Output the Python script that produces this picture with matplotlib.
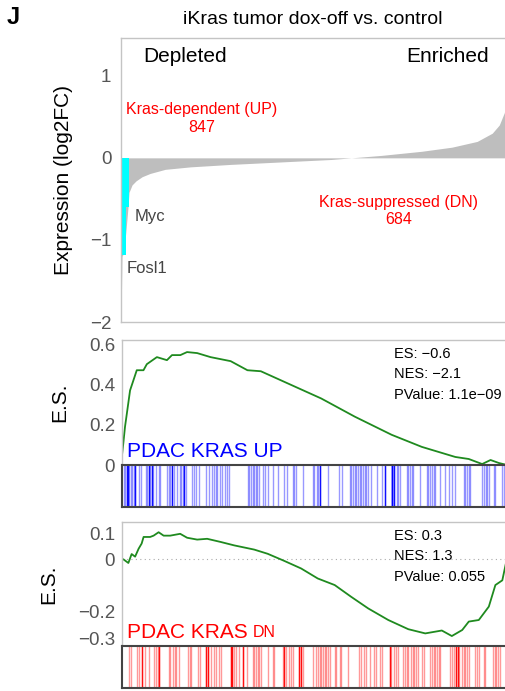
import matplotlib
matplotlib.use("Agg")
import matplotlib.pyplot as plt

plt.rcParams['font.family'] = ['Liberation Sans', 'DejaVu Sans']

# waterfall of sorted log2FC (rank as % of genes)
wf_rank = [0, 0.13, 0.26, 0.78, 1.82, 2.08, 2.86, 3.91, 5.47, 7.55, 11.46, 17.97,
           28.39, 41.41, 54.43, 59.64, 67.45, 77.86, 85.68, 92.19, 96.09, 97.92, 99.22, 100]
wf_log2fc = [-2.0, -1.6, -1.2, -1.15, -0.6, -0.42, -0.33, -0.28, -0.23, -0.19, -0.14, -0.11,
             -0.08, -0.05, -0.02, 0.0, 0.03, 0.08, 0.13, 0.2, 0.3, 0.4, 0.55, 0.72]
hl_genes = ['Fosl1', 'Myc']
hl_rank = [0.3, 1.2]
hl_log2fc = [-1.18, -0.6]
n_up = 847
n_dn = 684

# running enrichment score, PDAC KRAS UP
es_up_rank = [0, 0.35, 0.78, 1.22, 2.09, 2.96, 3.83, 5.57, 6.44, 9.05, 11.66, 12.97, 15.14,
              16.88, 19.5, 22.98, 28.2, 32.55, 36.03, 44.73, 51.7, 60.4, 69.97, 77.81,
              86.51, 89.99, 93.47, 95.65, 97.82, 100]
es_up = [0.05, 0.11, 0.19, 0.25, 0.37, 0.42, 0.47, 0.47, 0.5, 0.535, 0.52, 0.545, 0.545,
         0.56, 0.555, 0.535, 0.515, 0.47, 0.465, 0.39, 0.33, 0.24, 0.15, 0.09,
         0.04, 0.03, 0.005, 0.025, 0.01, 0.0]
up_hits = [0.5, 0.9, 1.2, 1.6, 1.9, 2.3, 2.7, 3.0, 3.3, 4.3, 4.9, 6.3, 6.6, 7.0, 7.3, 7.8, 8.1,
           8.9, 9.5, 9.9, 11.7, 12.1, 12.5, 13.0, 13.4, 14.3, 15.0, 15.4, 15.8, 16.2, 16.6,
           18.2, 18.6, 19.1, 19.9, 21.7, 22.5, 23.4, 23.8, 24.3, 24.7, 25.4, 26.0, 26.6, 27.2,
           27.8, 32.6, 33.0, 33.4, 33.9, 34.3, 34.7, 35.1, 35.6, 36.5, 37.1, 37.8, 39.1, 40.4,
           42.1, 42.8, 44.3, 44.7, 45.2, 46.9, 49.5, 49.9, 50.6, 50.8, 51.5, 53.4, 56.2, 57.1,
           59.1, 59.5, 60.0, 60.4, 60.8, 61.3, 61.7, 62.1, 62.6, 63.0, 63.4, 63.9, 64.6, 66.1,
           67.4, 68.2, 70.0, 70.2, 70.5, 71.3, 71.7, 72.1, 73.9, 74.3, 74.8, 75.2, 75.6, 77.4,
           79.1, 79.5, 80.0, 80.4, 80.9, 81.3, 82.6, 83.9, 84.8, 85.6, 86.5, 88.7, 89.1, 89.6,
           90.0, 90.4, 93.5, 93.9, 94.4, 94.8, 95.2, 96.5, 96.9, 98.7, 99.1]
up_hits_dark = [1.2, 1.6, 3.3, 7.0, 7.8, 13.0, 16.2, 51.5, 68.2, 70.0, 70.2, 70.5]

# running enrichment score, PDAC KRAS DN
es_dn_rank = [0, 0.35, 1.65, 2.5, 3.4, 4.3, 5.1, 5.6, 7.3, 8.2, 9.5, 10.8, 12.5, 15.1, 16.9,
              19.5, 22.1, 25.6, 29.1, 34.3, 37.8, 42.1, 46.5, 50.8, 55.2, 59.5, 63.9, 69.1,
              74.3, 78.7, 83.0, 85.6, 88.3, 90.0, 92.6, 95.2, 96.9, 98.7, 100]
es_dn = [0.0, 0.0, -0.014, 0.02, 0.01, 0.04, 0.06, 0.085, 0.085, 0.09, 0.103, 0.09, 0.09,
         0.097, 0.082, 0.075, 0.078, 0.066, 0.053, 0.037, 0.021, -0.006, -0.035, -0.073,
         -0.098, -0.143, -0.187, -0.231, -0.266, -0.282, -0.271, -0.292, -0.269, -0.237,
         -0.231, -0.18, -0.098, -0.08, 0.01]
dn_hits = [1.9, 2.3, 3.8, 4.3, 5.1, 6.0, 6.9, 8.4, 8.9, 9.3, 9.7, 12.1, 12.5, 13.2, 13.7, 14.1,
           14.7, 17.2, 17.6, 18.0, 19.8, 20.2, 21.9, 22.3, 23.0, 23.8, 24.3, 25.3, 25.8, 28.2,
           28.6, 29.1, 29.5, 30.4, 31.3, 32.4, 33.9, 34.3, 34.7, 35.2, 35.6, 36.0, 37.8, 39.1,
           39.5, 41.7, 42.1, 42.6, 43.4, 43.9, 44.3, 46.0, 46.5, 46.9, 49.5, 50.4, 50.8, 51.3,
           51.7, 52.1, 52.6, 53.0, 53.4, 53.9, 55.2, 55.6, 56.5, 56.9, 58.7, 61.4, 62.0, 62.8,
           63.4, 64.3, 65.5, 65.9, 66.9, 67.4, 69.5, 69.8, 70.7, 71.0, 71.7, 73.0, 73.4, 73.9,
           74.3, 75.0, 75.5, 75.9, 76.3, 76.8, 77.8, 78.3, 80.0, 80.4, 80.9, 81.3, 81.7, 82.2,
           82.6, 85.2, 85.6, 86.1, 86.8, 87.1, 87.5, 88.3, 88.7, 89.1, 89.6, 90.0, 91.7, 92.2,
           92.6, 93.9, 94.3, 96.3, 96.7, 97.1, 97.5, 98.0, 99.6]
dn_hits_dark = [5.1, 9.7, 21.9, 22.3, 28.2, 28.6, 31.3, 42.1, 46.0, 46.5, 69.5, 86.8, 87.1, 99.6]

stats_up = ['ES: \u22120.6', 'NES: \u22122.1', 'PValue: 1.1e\u221209']
stats_dn = ['ES: 0.3', 'NES: 1.3', 'PValue: 0.055']

LG = '#c4c4c4'
TICK = '#555555'
GREEN = '#1f8a1f'

fig = plt.figure(figsize=(5.05, 6.91), dpi=100)

def style_axes(ax, edge=LG):
    for s in ax.spines.values():
        s.set_color(edge)
        s.set_linewidth(1.0)
    ax.tick_params(axis='both', length=0, labelsize=13.5, labelcolor=TICK, pad=5)
    ax.set_xticks([])

# ---- waterfall ----
ax1 = fig.add_axes([0.2396, 0.534, 0.765, 0.411])
style_axes(ax1)
ax1.fill_between(wf_rank, wf_log2fc, 0, color='#bebebe', lw=0)
ax1.bar(hl_rank, hl_log2fc, width=0.9, align='edge', color='cyan', lw=0)
ax1.set_xlim(0, 100)
ax1.set_ylim(-2, 1.46)
ax1.set_yticks([1, 0, -1, -2])
ax1.tick_params(axis='y', pad=7)
ax1.set_ylabel('Expression (log2FC)', fontsize=15, labelpad=12)
ax1.text(16.5, 1.23, 'Depleted', fontsize=15, ha='center', va='center')
ax1.text(84.5, 1.23, 'Enriched', fontsize=15, ha='center', va='center')
ax1.text(3.6, -0.72, hl_genes[1], fontsize=12, color='#444444', va='center')
ax1.text(1.5, -1.35, hl_genes[0], fontsize=12, color='#444444', va='center')
ax1.text(20.8, 0.48, 'Kras-dependent (UP)\n%d' % n_up, fontsize=11.5, color='red',
         ha='center', va='center', linespacing=1.2)
ax1.text(71.8, -0.65, 'Kras-suppressed (DN)\n%d' % n_dn, fontsize=11.5, color='red',
         ha='center', va='center', linespacing=1.2)
fig.text(0.62, 0.972, 'iKras tumor dox-off vs. control', fontsize=14, ha='center', va='center')
fig.text(0.013, 0.974, 'J', fontsize=17, fontweight='bold', ha='left', va='center')


def es_panel(rect, rank, es, ylim, yticks, ylabels, stats, zero_line):
    ax = fig.add_axes(rect)
    style_axes(ax)
    ax.spines['bottom'].set_visible(False)
    if zero_line:
        ax.axhline(0, color='#aaaaaa', lw=0.8, ls=(0, (1, 3)))
    ax.plot(rank, es, color=GREEN, lw=1.3)
    ax.set_xlim(0, 100)
    ax.set_ylim(*ylim)
    ax.set_yticks(yticks)
    ax.set_yticklabels(ylabels)
    ax.set_ylabel('E.S.', fontsize=15, labelpad=14)
    for i, s in enumerate(stats):
        ax.text(0.705, 0.89 - i * 0.165, s, transform=ax.transAxes, fontsize=10.5,
                va='center', ha='left')
    return ax


def barcode(rect, hits, dark, color):
    ax = fig.add_axes(rect)
    ax.vlines(hits, 0, 1, color=color, alpha=0.4, lw=1.0)
    ax.vlines(dark, 0, 1, color=color, alpha=0.9, lw=1.0)
    ax.set_xlim(0, 100)
    ax.set_ylim(0, 1)
    ax.set_xticks([])
    ax.set_yticks([])
    for s in ax.spines.values():
        s.set_color('#444444')
        s.set_linewidth(1.5)
    return ax

ax2 = es_panel([0.2416, 0.327, 0.763, 0.181], es_up_rank, es_up, (0, 0.62),
               [0, 0.2, 0.4, 0.6], ['0', '0.2', '0.4', '0.6'], stats_up, False)
ax2.text(0.012, 0.105, 'PDAC KRAS UP', transform=ax2.transAxes, fontsize=15,
         color='blue', va='center', ha='left')
barcode([0.2416, 0.2663, 0.763, 0.0608], up_hits, up_hits_dark, 'blue')

ax3 = es_panel([0.2416, 0.0651, 0.763, 0.1795], es_dn_rank, es_dn, (-0.33, 0.142),
               [0.1, 0, -0.2, -0.3], ['0.1', '0', '\u22120.2', '\u22120.3'], stats_dn, True)
t = ax3.text(0.012, 0.105, 'PDAC KRAS ', transform=ax3.transAxes, fontsize=15,
             color='red', va='center', ha='left')
ax3.annotate('DN', xy=(1, 0), xycoords=t, xytext=(0, 1.5), textcoords='offset points',
             fontsize=11.5, color='red', va='bottom', ha='left')
barcode([0.2416, 0.00434, 0.763, 0.0608], dn_hits, dn_hits_dark, 'red')

fig.savefig('out.png', dpi=100)
